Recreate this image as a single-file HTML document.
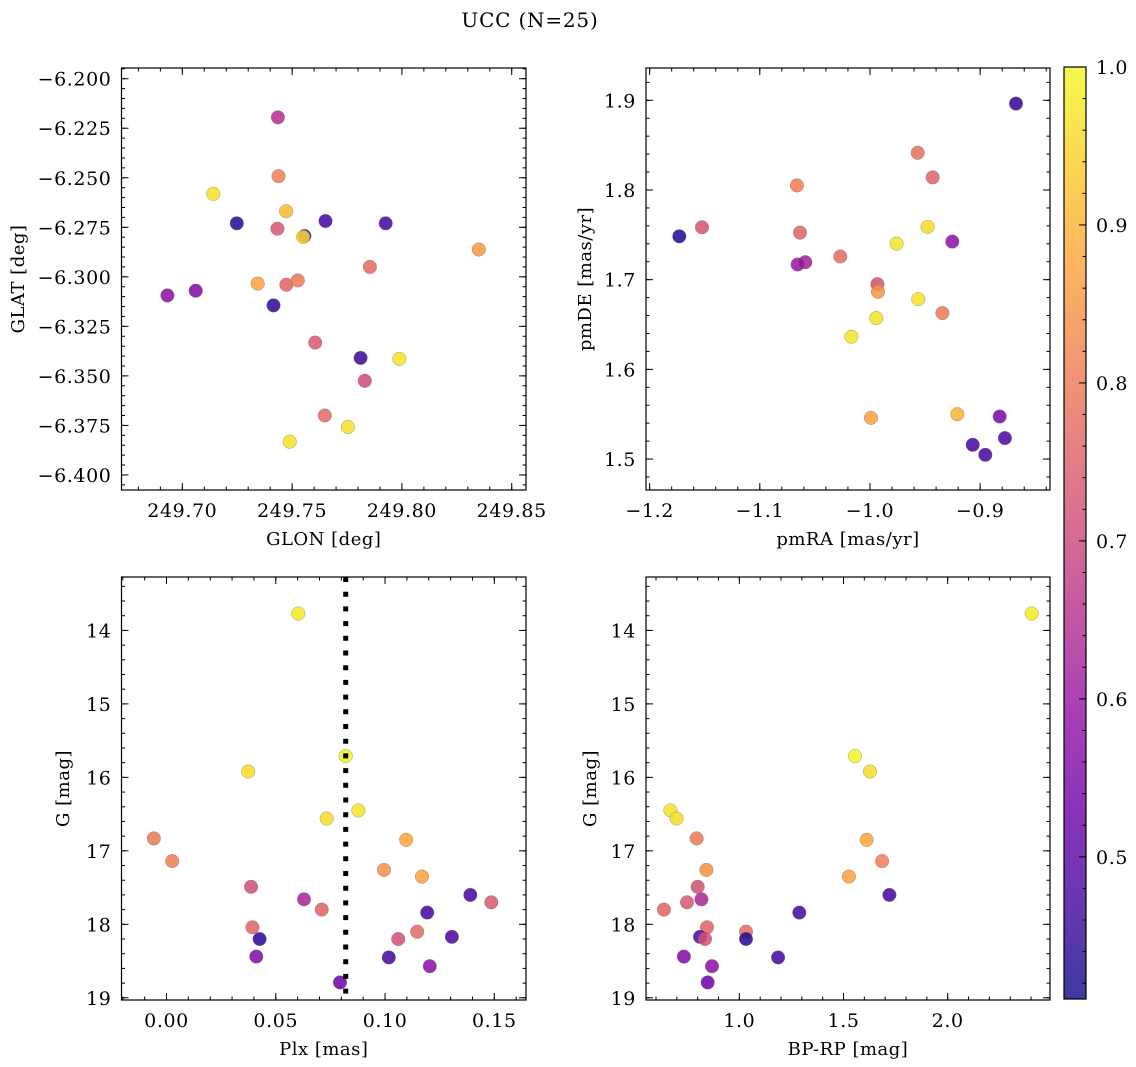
<!DOCTYPE html>
<html><head><meta charset="utf-8"><style>
html,body{margin:0;padding:0;background:#fff;}
svg{display:block;font-family:"DejaVu Serif","Liberation Serif",serif;}
</style></head><body>
<svg id="fig" width="1136" height="1067" viewBox="0 0 1136 1067" xmlns="http://www.w3.org/2000/svg">
<text x="530" y="27" text-anchor="middle" font-size="20" letter-spacing="0.8">UCC (N=25)</text>
</svg>
<script>
// ---- data ----
const glon = [249.7435,249.7438,249.7141,249.7473,249.7248,249.7652,249.7926,249.7433,249.7556,249.7550,249.8350,249.7343,249.7474,249.7526,249.7854,249.6932,249.7061,249.7415,249.7605,249.7812,249.7988,249.7831,249.7649,249.7754,249.7489];
const glat = [-6.2195,-6.2492,-6.2581,-6.2669,-6.2730,-6.2718,-6.2730,-6.2757,-6.2794,-6.2799,-6.2862,-6.3034,-6.3040,-6.3018,-6.2950,-6.3094,-6.3070,-6.3144,-6.3332,-6.3409,-6.3414,-6.3525,-6.3700,-6.3758,-6.3832];
const probTL = [0.65,0.81,0.97,0.91,0.44,0.47,0.47,0.73,0.47,0.96,0.86,0.87,0.76,0.80,0.77,0.58,0.56,0.45,0.74,0.46,0.97,0.71,0.77,0.97,0.97];

const pmra = [-0.8675,-0.9567,-0.9431,-1.0663,-1.1731,-1.1525,-1.0635,-0.9477,-0.9253,-0.9758,-1.0269,-1.0587,-1.0657,-0.9933,-0.9927,-0.9561,-0.9343,-0.9943,-1.0169,-0.9991,-0.9207,-0.8823,-0.9068,-0.8775,-0.8953];
const pmde = [1.8963,1.8414,1.8140,1.8051,1.7484,1.7584,1.7525,1.7588,1.7424,1.7402,1.7258,1.7195,1.7169,1.6950,1.6865,1.6783,1.6627,1.6572,1.6364,1.5460,1.5500,1.5475,1.5159,1.5234,1.5048];
const probTR = [0.45,0.78,0.76,0.81,0.43,0.73,0.76,0.96,0.58,0.97,0.77,0.62,0.60,0.72,0.85,0.97,0.80,0.97,0.97,0.87,0.90,0.55,0.47,0.48,0.47];

const plx = [0.0603,0.0374,0.0820,0.0733,0.0878,-0.0058,0.0026,0.1097,0.0995,0.1169,0.0387,0.0629,0.0710,0.1390,0.1486,0.0393,0.0426,0.1193,0.1147,0.1060,0.1306,0.1017,0.0411,0.1205,0.0794];
const gmagBL = [13.77,15.92,15.71,16.56,16.45,16.83,17.14,16.85,17.26,17.35,17.49,17.66,17.80,17.60,17.70,18.04,18.20,17.84,18.10,18.20,18.17,18.45,18.44,18.57,18.79];
const probBL = [0.98,0.96,0.99,0.96,0.97,0.80,0.81,0.88,0.84,0.87,0.72,0.63,0.76,0.47,0.74,0.76,0.44,0.47,0.77,0.72,0.48,0.47,0.56,0.58,0.53];
const plxLine = 0.082;

const bprp = [2.403,1.555,1.627,0.669,0.699,0.795,1.611,1.685,0.842,1.526,0.800,0.749,0.818,0.638,1.72,1.288,0.845,0.811,0.835,1.032,1.032,1.186,0.734,0.869,0.848];
const gmagBR = [13.77,15.71,15.92,16.45,16.56,16.83,16.85,17.14,17.26,17.35,17.49,17.70,17.66,17.80,17.60,17.84,18.04,18.17,18.20,18.10,18.20,18.45,18.44,18.57,18.79];
const probBR = [0.98,0.99,0.96,0.97,0.96,0.80,0.88,0.81,0.84,0.87,0.72,0.74,0.63,0.76,0.47,0.47,0.76,0.48,0.72,0.77,0.44,0.47,0.56,0.58,0.53];

const tlXTicks = [249.70,249.75,249.80,249.85];
const tlXLabels = ["249.70","249.75","249.80","249.85"];
const tlYTicks = [-6.200,-6.225,-6.250,-6.275,-6.300,-6.325,-6.350,-6.375,-6.400];
const tlYLabels = ["\u22126.200","\u22126.225","\u22126.250","\u22126.275","\u22126.300","\u22126.325","\u22126.350","\u22126.375","\u22126.400"];
const trXTicks = [-1.2,-1.1,-1.0,-0.9];
const trXLabels = ["\u22121.2","\u22121.1","\u22121.0","\u22120.9"];
const trYTicks = [1.5,1.6,1.7,1.8,1.9];
const trYLabels = ["1.5","1.6","1.7","1.8","1.9"];
const blXTicks = [0.00,0.05,0.10,0.15];
const blXLabels = ["0.00","0.05","0.10","0.15"];
const gTicks = [14,15,16,17,18,19];
const gLabels = ["14","15","16","17","18","19"];
const brXTicks = [1.0,1.5,2.0];
const brXLabels = ["1.0","1.5","2.0"];
const cbTicks = [0.5,0.6,0.7,0.8,0.9,1.0];
const cbLabels = ["0.5","0.6","0.7","0.8","0.9","1.0"];
const cMin = 0.41, cMax = 1.0;

// ---- drawing ----
const NS = "http://www.w3.org/2000/svg";
const svg = document.getElementById('fig');
const FS = 19, LS = 0.6;
function mk(tag, attrs, parent){ const e=document.createElementNS(NS,tag); for(const k in attrs) e.setAttribute(k,attrs[k]); (parent||svg).appendChild(e); return e; }
const plasma = ["#0d0887","#41049d","#6a00a8","#8f0da4","#b12a90","#cc4778","#e16462","#f2844b","#fca636","#fcce25","#f0f921"];
function hx(h){return [parseInt(h.substr(1,2),16),parseInt(h.substr(3,2),16),parseInt(h.substr(5,2),16)];}
function cmap(v){ let t=(v-cMin)/(cMax-cMin); t=Math.max(0,Math.min(1,t)); const p=t*10, i=Math.min(9,Math.floor(p)), f=p-i; const a=hx(plasma[i]), b=hx(plasma[i+1]); return `rgb(${a.map((x,k)=>Math.round(x+(b[k]-x)*f)).join(',')})`; }
function lin(d0,d1,p0,p1){ return v => p0+(v-d0)/(d1-d0)*(p1-p0); }

function panel(cfg){
  const {name,L,T,R,B,xd,yd,xt,xl,yt,yl,xminor,yminor,xs,ys,cs,xlabel,ylabel,ylabX} = cfg;
  const g = mk('g',{}); 
  
  
  const X = lin(xd[0],xd[1],L,R), Y = lin(yd[0],yd[1],B,T);
  const pg = mk('g',{},g);
  
  
  for(let i=0;i<xs.length;i++){
    const c = mk('circle',{cx:X(xs[i]).toFixed(1),cy:Y(ys[i]).toFixed(1),r:6.8,fill:cmap(cs[i]),'fill-opacity':0.85,stroke:'#777','stroke-width':0.5,'stroke-opacity':0.7},pg);
    
    
  }
  if(cfg.extra) cfg.extra(g,X,Y);
  const fr = mk('rect',{x:L,y:T,width:R-L,height:B-T,fill:'none',stroke:'#000','stroke-width':1.2},g);
  
  
  const tk = mk('g',{stroke:'#000','stroke-width':1},g);
  
  
  function xtick(v,len){ const x=X(v); if(x<L-0.5||x>R+0.5) return; mk('line',{x1:x,y1:B,x2:x,y2:B-len},tk); mk('line',{x1:x,y1:T,x2:x,y2:T+len},tk); }
  function ytick(v,len){ const y=Y(v); if(y<T-0.5||y>B+0.5) return; mk('line',{x1:L,y1:y,x2:L+len,y2:y},tk); mk('line',{x1:R,y1:y,x2:R-len,y2:y},tk); }
  const x0=Math.min(xd[0],xd[1]), x1=Math.max(xd[0],xd[1]);
  for(let k=Math.ceil(x0/xminor-1e-6);k*xminor<=x1+1e-9;k++) xtick(k*xminor,3.5);
  const y0=Math.min(yd[0],yd[1]), y1=Math.max(yd[0],yd[1]);
  for(let k=Math.ceil(y0/yminor-1e-6);k*yminor<=y1+1e-9;k++) ytick(k*yminor,3.5);
  xt.forEach(v=>xtick(v,7)); yt.forEach(v=>ytick(v,7));
  xt.forEach((v,i)=>{ const t=mk('text',{x:X(v),y:B+27,'text-anchor':'middle','font-size':FS,'letter-spacing':LS},g); t.textContent=xl[i];
      });
  yt.forEach((v,i)=>{ const t=mk('text',{x:L-10,y:Y(v)+7,'text-anchor':'end','font-size':FS,'letter-spacing':LS},g); t.textContent=yl[i];
      });
  const xa=mk('text',{x:(L+R)/2,y:B+55,'text-anchor':'middle','font-size':18,'letter-spacing':0.5},g); xa.textContent=xlabel;
   
  const cy=(T+B)/2;
  const ya=mk('text',{x:ylabX,y:cy,'text-anchor':'middle','font-size':18,'letter-spacing':0.5,transform:`rotate(-90 ${ylabX} ${cy})`},g); ya.textContent=ylabel;
   
}

panel({name:'glon-glat-panel',L:121.5,T:68,R:526,B:490,xd:[249.6723,249.8565],yd:[-6.4076,-6.1946],
  xt:tlXTicks,xl:tlXLabels,yt:tlYTicks,yl:tlYLabels,xminor:0.01,yminor:0.005,xs:glon,ys:glat,cs:probTL,
  xlabel:'GLON [deg]',ylabel:'GLAT [deg]',ylabX:24});
panel({name:'pm-panel',L:646,T:68,R:1050,B:490,xd:[-1.2033,-0.8366],yd:[1.4655,1.936],
  xt:trXTicks,xl:trXLabels,yt:trYTicks,yl:trYLabels,xminor:0.02,yminor:0.02,xs:pmra,ys:pmde,cs:probTR,
  xlabel:'pmRA [mas/yr]',ylabel:'pmDE [mas/yr]',ylabX:591});
panel({name:'plx-g-panel',L:121.5,T:577,R:526,B:1000,xd:[-0.0206,0.1645],yd:[19.03,13.273],
  xt:blXTicks,xl:blXLabels,yt:gTicks,yl:gLabels,xminor:0.01,yminor:0.2,xs:plx,ys:gmagBL,cs:probBL,
  xlabel:'Plx [mas]',ylabel:'G [mag]',ylabX:69,
  extra:(g,X,Y)=>{ const l=mk('line',{x1:X(plxLine),x2:X(plxLine),y1:577,y2:1000,stroke:'#000','stroke-width':5,'stroke-dasharray':'5 9.7'},g);
      }});
panel({name:'cmd-panel',L:646,T:577,R:1050,B:1000,xd:[0.552,2.491],yd:[19.03,13.273],
  xt:brXTicks,xl:brXLabels,yt:gTicks,yl:gLabels,xminor:0.1,yminor:0.2,xs:bprp,ys:gmagBR,cs:probBR,
  xlabel:'BP-RP [mag]',ylabel:'G [mag]',ylabX:596});

(function(){
  const L=1064,R=1086,T=67,B=999;
  const g=mk('g',{});
   
  const defs=mk('defs',{},g);
  const lg=mk('linearGradient',{id:'cbg',x1:0,y1:1,x2:0,y2:0},defs);
  for(let i=0;i<=20;i++){ const v=cMin+(cMax-cMin)*i/20; mk('stop',{offset:(i/20),'stop-color':cmap(v),'stop-opacity':0.8},lg); }
  const r=mk('rect',{x:L,y:T,width:R-L,height:B-T,fill:'url(#cbg)',stroke:'#000','stroke-width':1.2},g);
   
  const Y=lin(cMin,cMax,B,T);
  for(let k=21;k<=50;k++){ const v=k*0.02, y=Y(v); if(y<T||y>B) continue; mk('line',{x1:R,x2:R-3.5,y1:y,y2:y,stroke:'#000','stroke-width':1},g); }
  cbTicks.forEach((v,i)=>{ const y=Y(v); mk('line',{x1:R,x2:R-7,y1:y,y2:y,stroke:'#000','stroke-width':1},g);
    const t=mk('text',{x:R+10,y:y+7,'font-size':FS,'letter-spacing':LS},g); t.textContent=cbLabels[i];
      });
})();
</script>
</body></html>
